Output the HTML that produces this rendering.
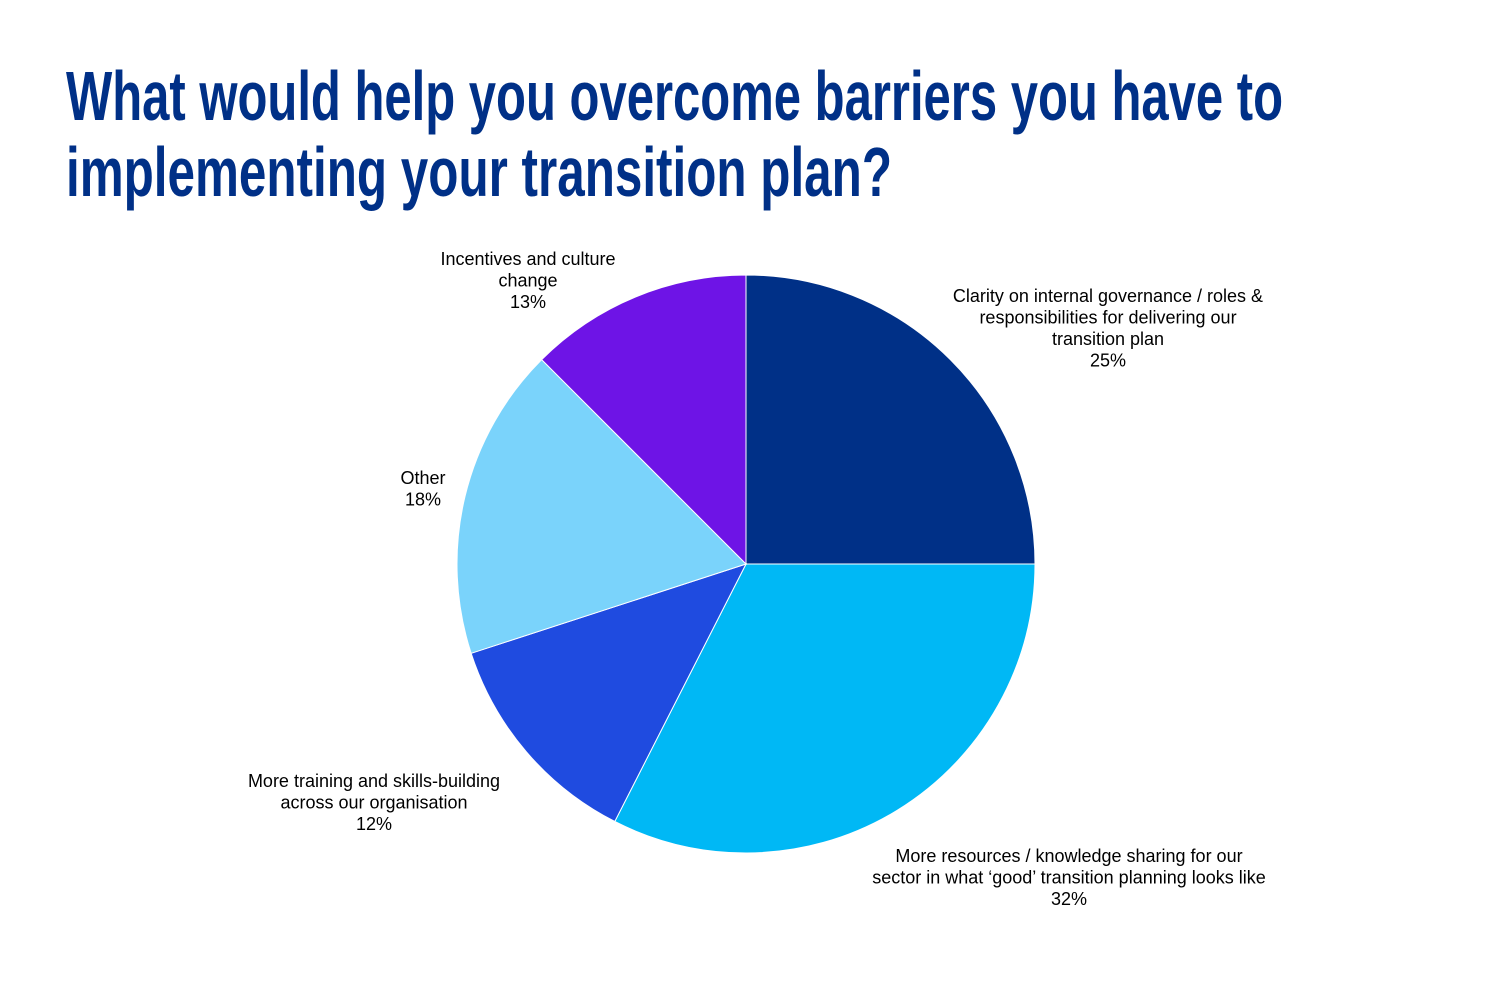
<!DOCTYPE html>
<html><head><meta charset="utf-8"><style>
html,body{margin:0;padding:0;background:#fff;}
svg{display:block;font-family:"Liberation Sans",Arial,sans-serif;}
</style></head><body>
<svg width="1500" height="1000" viewBox="0 0 1500 1000">
<text x="66" y="120" font-size="70" font-weight="bold" fill="#003087" textLength="1217" lengthAdjust="spacingAndGlyphs">What would help you overcome barriers you have to</text>
<text x="66" y="196" font-size="70" font-weight="bold" fill="#003087" textLength="826" lengthAdjust="spacingAndGlyphs">implementing your transition plan?</text>
<g id="slices"></g>
<g id="labels" font-size="18" fill="#000" text-anchor="middle"></g>
</svg>
<script>
const categories=["Clarity on internal governance / roles & responsibilities for delivering our transition plan","More resources / knowledge sharing for our sector in what ‘good’ transition planning looks like","More training and skills-building across our organisation","Other","Incentives and culture change"];
const values=[25,32.5,12.5,17.5,12.5];
const pctLabels=["25%","32%","12%","18%","13%"];
const colors=["#003087","#00B8F5","#1F4BE0","#7AD3FB","#6E14E6"];
const labelLines=[["Clarity on internal governance / roles &","responsibilities for delivering our","transition plan"],["More resources / knowledge sharing for our","sector in what ‘good’ transition planning looks like"],["More training and skills-building","across our organisation"],["Other"],["Incentives and culture","change"]];
const labelPos=[[1108,302],[1069,862],[374,787],[423,484],[528,265]];
const cx=746,cy=564,r=289;
const NS="http://www.w3.org/2000/svg";
const total=values.reduce((a,b)=>a+b,0);
const sg=document.getElementById('slices'),lg=document.getElementById('labels');
function pt(a){return [cx+r*Math.sin(a),cy-r*Math.cos(a)];}
let acc=0;
values.forEach((v,i)=>{
 const a0=acc/total*2*Math.PI;acc+=v;const a1=acc/total*2*Math.PI;
 const p0=pt(a0),p1=pt(a1);
 const p=document.createElementNS(NS,'path');
 p.setAttribute('d',`M${cx},${cy}L${p0[0]},${p0[1]}A${r},${r} 0 ${a1-a0>Math.PI?1:0} 1 ${p1[0]},${p1[1]}Z`);
 p.setAttribute('fill',colors[i]);p.setAttribute('stroke','#fff');p.setAttribute('stroke-width','1');
 
 
 sg.appendChild(p);
 const t=document.createElementNS(NS,'text');
 
 
 const lines=labelLines[i].concat([pctLabels[i]]);
 lines.forEach((s,j)=>{const ts=document.createElementNS(NS,'tspan');ts.setAttribute('x',labelPos[i][0]);ts.setAttribute('y',labelPos[i][1]+j*21.5);ts.textContent=s;t.appendChild(ts);});
 lg.appendChild(t);
});
</script>
</body></html>
